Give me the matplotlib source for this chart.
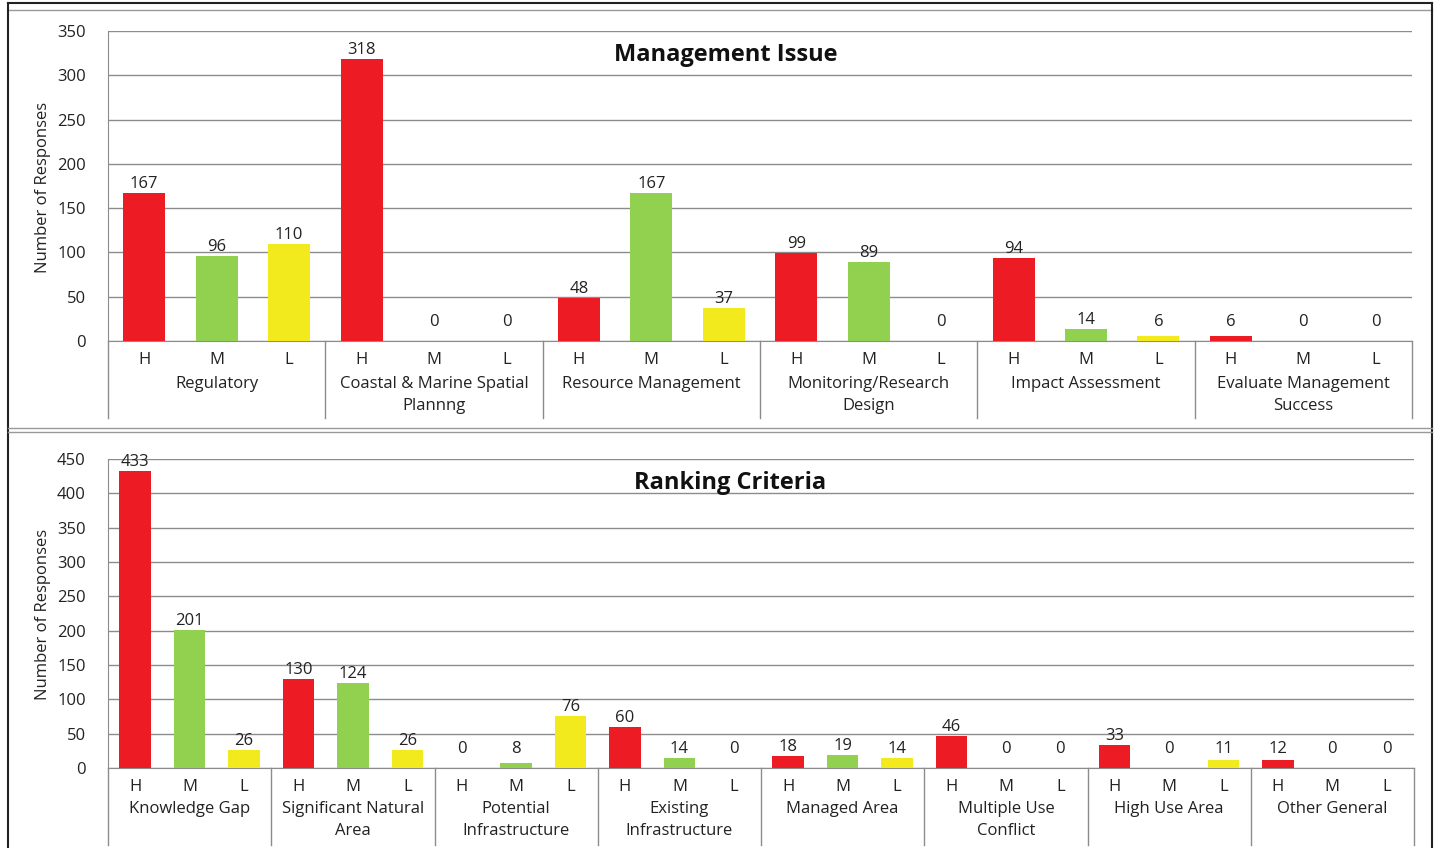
import matplotlib
matplotlib.use("Agg")
import matplotlib.pyplot as plt
from matplotlib.lines import Line2D
import numpy as np

plt.rcParams['font.family'] = ['Open Sans', 'DejaVu Sans']

levels = ["H", "M", "L"]

top_title = "Management Issue"
top_groups = ["Regulatory", "Coastal & Marine Spatial\nPlannng", "Resource Management",
              "Monitoring/Research\nDesign", "Impact Assessment", "Evaluate Management\nSuccess"]
top_H = [167, 318, 48, 99, 94, 6]
top_M = [96, 0, 167, 89, 14, 0]
top_L = [110, 0, 37, 0, 6, 0]
top_ymax = 350
top_yticks = [0, 50, 100, 150, 200, 250, 300, 350]

bot_title = "Ranking Criteria"
bot_groups = ["Knowledge Gap", "Significant Natural\nArea", "Potential\nInfrastructure",
              "Existing\nInfrastructure", "Managed Area", "Multiple Use\nConflict",
              "High Use Area", "Other General"]
bot_H = [433, 130, 0, 60, 18, 46, 33, 12]
bot_M = [201, 124, 8, 14, 19, 0, 0, 0]
bot_L = [26, 26, 76, 0, 14, 0, 11, 0]
bot_ymax = 450
bot_yticks = [0, 50, 100, 150, 200, 250, 300, 350, 400, 450]

colors = ["#ED1C24", "#92D050", "#F2EA1C"]
W, H = 1438, 848
FS = 12
TC = '#222222'
fig = plt.figure(figsize=(W / 100, H / 100), dpi=100)


def panel(rect, title, title_x, groups, H_, M_, L_, ymax, yticks, hpx, name_off):
    ax = fig.add_axes(rect)
    n = len(groups)
    vals = [H_, M_, L_]
    pt_per_unit = hpx / ymax * 0.72
    for j in range(3):
        x = np.arange(n) * 3 + j
        ax.bar(x, vals[j], width=0.58, color=colors[j], zorder=3)
        for xi, v in zip(x, vals[j]):
            off = max(v * pt_per_unit + 6.5, 13.7)
            ax.annotate(str(v), (xi, 0), xytext=(0, off), textcoords='offset points',
                        ha='center', va='center', fontsize=FS, color=TC)
            ax.annotate(levels[j], (xi, 0), xycoords=('data', 'axes fraction'),
                        xytext=(0, -14), textcoords='offset points',
                        ha='center', va='center', fontsize=FS, color=TC)
    for g, name in enumerate(groups):
        ax.annotate(name, (g * 3 + 1, 0), xycoords=('data', 'axes fraction'),
                    xytext=(0, name_off), textcoords='offset points',
                    ha='center', va='top', fontsize=FS, color=TC,
                    linespacing=1.5)
    for g in range(n + 1):
        ax.add_line(Line2D([g * 3 - 0.5] * 2, [0, -0.248], color='#8c8c8c', lw=1.0,
                           transform=ax.get_xaxis_transform(), clip_on=False))
    ax.set_xlim(-0.5, n * 3 - 0.5)
    ax.set_ylim(0, ymax)
    ax.set_yticks(yticks)
    ax.set_xticks([])
    ax.yaxis.grid(True, color='#8c8c8c', lw=1.0, zorder=0)
    ax.set_axisbelow(True)
    for s in ['top', 'right']:
        ax.spines[s].set_visible(False)
    ax.spines['left'].set_color('#8c8c8c')
    ax.spines['bottom'].set_color('#8c8c8c')
    ax.tick_params(axis='y', length=0, labelsize=FS, pad=16, colors=TC)
    ax.text(title_x, 0.922, title, transform=ax.transAxes, fontsize=17,
            fontweight='bold', ha='center', va='center', color='#111111')
    return ax


ax1 = panel([108 / W, 1 - 341 / H, (1412 - 108) / W, 310 / H], top_title, 0.474, top_groups,
            top_H, top_M, top_L, top_ymax, top_yticks, 310, -25.5)
ax2 = panel([108 / W, 1 - 768 / H, (1414 - 108) / W, 309 / H], bot_title, 0.476, bot_groups,
            bot_H, bot_M, bot_L, bot_ymax, bot_yticks, 309, -24)

fig.text(43 / W, 1 - 187 / H, "Number of Responses", rotation=90, ha='center', va='center',
         fontsize=FS, color=TC)
fig.text(43 / W, 1 - 614 / H, "Number of Responses", rotation=90, ha='center', va='center',
         fontsize=FS, color=TC)

# frame lines
def fl(x0, x1, y0, y1, c, lw):
    fig.add_artist(Line2D([x0 / W, x1 / W], [1 - y0 / H, 1 - y1 / H], color=c, lw=lw))

fl(8, 1432, 3, 3, '#222222', 1.5)
fl(8, 1432, 10, 10, '#999999', 1.0)
fl(8, 8, 3, 848, '#222222', 1.5)
fl(1432, 1432, 3, 848, '#222222', 1.5)
fl(8, 1432, 428, 428, '#999999', 1.0)
fl(8, 1432, 432, 432, '#999999', 1.0)

fig.savefig("out.png", dpi=100)
